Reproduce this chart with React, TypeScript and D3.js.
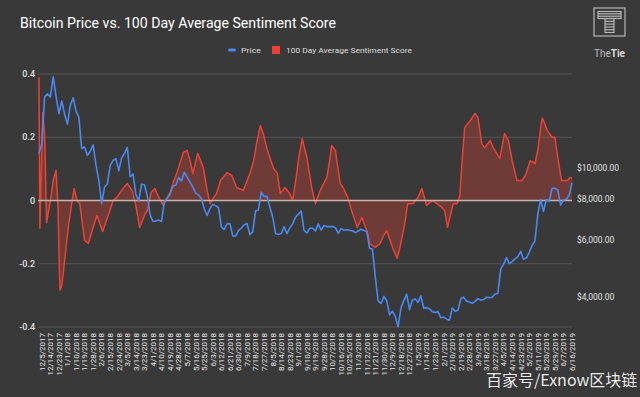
import React from 'react';
import * as d3 from 'd3';

const TITLE = 'Bitcoin Price vs. 100 Day Average Sentiment Score';
const LEGEND_PRICE = 'Price';
const LEGEND_SENT = '100 Day Average Sentiment Score';

const X_DOMAIN = ['12/1/2017', '6/16/2019'];

// Price: sampled every 3 days starting at PRICE_START
const PRICE_START = '12/2/2017';
const PRICE_STEP_DAYS = 3;
const priceValues = [
  11074, 11916, 16570, 16936, 16564, 19140, 16624, 14699, 16099, 14656,
  13657, 15599, 16477, 14973, 14360, 11490, 11607, 10931, 11259, 11787,
  10221, 9174, 7754, 8736, 8926, 10166, 10551, 10690, 9813, 10725,
  11086, 11573, 9395, 9578, 8270, 7916, 8913, 8879, 8209, 7165,
  6845, 6854, 6911, 6834, 7895, 8058, 8294, 8802, 8845, 9348,
  9119, 9700, 9373, 9043, 8723, 8368, 8247, 8041, 7480, 7135,
  7494, 7720, 7653, 7531, 6582, 6456, 6734, 6729, 6173, 6157,
  6404, 6529, 6673, 6741, 6228, 6359, 7370, 7419, 8424, 8165,
  8180, 7567, 7068, 6282, 6232, 6274, 6583, 6270, 6539, 6721,
  7053, 7193, 7362, 6419, 6300, 6517, 6517, 6398, 6712, 6432,
  6645, 6590, 6590, 6600, 6540, 6280, 6500, 6420, 6450, 6420,
  6400, 6317, 6390, 6470, 6410, 6370, 5648, 5620, 4602, 3880,
  3820, 4017, 3894, 3521, 3614, 3486, 3236, 3696, 3896, 4078,
  3654, 3913, 3943, 3846, 4030, 3687, 3707, 3679, 3602, 3583,
  3603, 3448, 3464, 3414, 3390, 3695, 3615, 3636, 3947, 3993,
  3882, 3855, 3822, 3874, 3950, 3910, 3925, 3990, 3980, 3990,
  4085, 4100, 4880, 5043, 5287, 5064, 5140, 5240, 5323, 5528,
  5230, 5270, 5490, 5770, 5950, 7204, 7995, 7344, 7996, 7880,
  8657, 8660, 8558, 7675, 7960, 8009, 8230, 8994,
];

// Sentiment: day offsets from SENT_START and values
const SENT_START = '12/1/2017';
const sentimentDays = [
  1, 2, 5, 7, 9, 13, 16, 19, 21, 23,
  25, 28, 32, 36, 38, 41, 44, 47, 49, 53,
  57, 62, 68, 74, 79, 83, 88, 94, 99, 103,
  107, 112, 115, 119, 123, 126, 132, 136, 139, 143,
  146, 153, 157, 160, 163, 168, 174, 178, 181, 185,
  188, 192, 199, 204, 209, 216, 223, 227, 230, 234,
  237, 241, 244, 248, 252, 255, 260, 265, 268, 272,
  274, 278, 283, 288, 292, 297, 304, 307, 309, 313,
  316, 318, 321, 326, 330, 336, 341, 347, 349, 355,
  360, 364, 367, 373, 378, 381, 386, 389, 395, 400,
  404, 409, 415, 420, 425, 428, 431, 437, 441, 444,
  446, 449, 455, 460, 463, 467, 470, 476, 479, 486,
  491, 495, 499, 504, 509, 513, 518, 523, 526, 530,
  531, 536, 541, 544, 547, 551, 557, 560, 562,
];
const sentimentValues = [
  0.39, -0.088, 0.278, 0.205, -0.07, 0.0, 0.063, 0.095, -0.016, -0.284,
  -0.27, -0.19, -0.08, 0.0, 0.038, 0.0, -0.01, -0.08, -0.126, -0.136,
  -0.095, -0.047, -0.098, -0.047, 0.0, 0.01, 0.032, 0.054, 0.032, -0.016,
  -0.085, -0.047, -0.032, 0.025, 0.038, 0.016, -0.016, 0.01, 0.025, 0.063,
  0.085, 0.152, 0.158, 0.126, 0.085, 0.149, 0.104, 0.032, -0.01, 0.01,
  0.022, 0.063, 0.088, 0.079, 0.041, 0.032, 0.085, 0.126, 0.18, 0.237,
  0.212, 0.164, 0.136, 0.101, 0.085, 0.022, 0.041, 0.022, 0.0, 0.079,
  0.126, 0.196, 0.136, 0.041, -0.01, 0.032, 0.073, 0.126, 0.174, 0.158,
  0.095, 0.054, 0.041, 0.01, -0.032, -0.085, -0.054, -0.104, -0.136, -0.148,
  -0.136, -0.11, -0.095, -0.148, -0.183, -0.148, -0.073, -0.01, -0.01, 0.01,
  0.038, -0.016, 0.0, -0.01, -0.022, -0.032, -0.085, -0.01, -0.01, 0.016,
  0.11, 0.23, 0.253, 0.275, 0.262, 0.18, 0.167, 0.19, 0.167, 0.133,
  0.212, 0.19, 0.126, 0.063, 0.063, 0.079, 0.126, 0.117, 0.158, 0.253,
  0.26, 0.221, 0.2, 0.2, 0.136, 0.063, 0.063, 0.073, 0.07,
];

const xTickLabels = [
  '12/5/2017', '12/14/2017', '12/23/2017',
  '1/1/2018', '1/10/2018', '1/19/2018', '1/28/2018', '2/6/2018', '2/15/2018', '2/24/2018',
  '3/5/2018', '3/14/2018', '3/23/2018', '4/1/2018', '4/10/2018', '4/19/2018', '4/28/2018',
  '5/7/2018', '5/16/2018', '5/25/2018', '6/3/2018', '6/12/2018', '6/21/2018', '6/30/2018',
  '7/9/2018', '7/18/2018', '7/27/2018', '8/5/2018', '8/14/2018', '8/23/2018', '9/1/2018',
  '9/10/2018', '9/19/2018', '9/28/2018', '10/7/2018', '10/16/2018', '10/25/2018',
  '11/3/2018', '11/12/2018', '11/21/2018', '11/30/2018', '12/9/2018', '12/18/2018', '12/27/2018',
  '1/5/2019', '1/14/2019', '1/23/2019', '2/1/2019', '2/10/2019', '2/19/2019', '2/28/2019',
  '3/9/2019', '3/18/2019', '3/27/2019', '4/5/2019', '4/14/2019', '4/23/2019', '5/2/2019',
  '5/11/2019', '5/20/2019', '5/29/2019', '6/7/2019', '6/16/2019',
];

const leftTicks = [0.4, 0.2, 0, -0.2, -0.4];
const leftTickLabels = ['0.4', '0.2', '0', '-0.2', '-0.4'];
const SENT_DOMAIN = [-0.4, 0.4];

const rightTicks = [10000, 8000, 6000, 4000];
const rightTickLabels = ['$10,000.00', '$8,000.00', '$6,000.00', '$4,000.00'];
const PRICE_DOMAIN = [3230, 19500];

const WATERMARK = '百家号/Exnow区块链';

const W = 640;
const H = 397;
const plot = { left: 38, right: 572, top: 74, bottom: 327 };

const BG = '#393939';
const BLUE = '#4a89f0';
const RED = '#ea4335';

export default function App() {
  const parse = d3.timeParse('%m/%d/%Y');
  const x = d3
    .scaleTime()
    .domain([parse(X_DOMAIN[0])!, parse(X_DOMAIN[1])!])
    .range([plot.left, plot.right]);
  const yL = d3.scaleLinear().domain(SENT_DOMAIN).range([plot.bottom, plot.top]);
  const yR = d3.scaleLog().domain(PRICE_DOMAIN).range([plot.bottom, plot.top]);

  const priceStart = parse(PRICE_START)!;
  const priceData = priceValues.map((v, i) => ({
    d: d3.timeDay.offset(priceStart, i * PRICE_STEP_DAYS),
    v,
  }));
  const sentStart = parse(SENT_START)!;
  const n = Math.min(sentimentDays.length, sentimentValues.length);
  const sentData = sentimentDays.slice(0, n).map((day, i) => ({
    d: d3.timeDay.offset(sentStart, day),
    v: sentimentValues[i],
  }));

  const area = d3
    .area<{ d: Date; v: number }>()
    .x((p) => x(p.d))
    .y0(yL(0))
    .y1((p) => yL(p.v));
  const sentLine = d3
    .line<{ d: Date; v: number }>()
    .x((p) => x(p.d))
    .y((p) => yL(p.v));
  const priceLine = d3
    .line<{ d: Date; v: number }>()
    .x((p) => x(p.d))
    .y((p) => yR(p.v));

  const font = 'Roboto, "Noto Sans", sans-serif';

  return (
    <svg
      width={W}
      height={H}
      style={{ position: 'absolute', left: 0, top: 0, display: 'block' }}
      fontFamily={font}
    >
      <rect x={0} y={0} width={W} height={H} fill={BG} />

      {/* Title */}
      <text x={20} y={27.5} fill="#ffffff" fontSize={15} textLength={316} lengthAdjust="spacingAndGlyphs">
        {TITLE}
      </text>

      {/* Legend */}
      <rect x={228} y={48.5} width={8} height={3} rx={1.5} fill={BLUE} />
      <text x={241} y={53} fill="#dddddd" fontSize={8} textLength={20} lengthAdjust="spacingAndGlyphs">
        {LEGEND_PRICE}
      </text>
      <rect x={272} y={46} width={8} height={8} fill={RED} />
      <text x={286} y={53} fill="#dddddd" fontSize={8} textLength={126} lengthAdjust="spacingAndGlyphs">
        {LEGEND_SENT}
      </text>

      {/* Logo */}
      <g stroke="#b8b8b8" fill="none" strokeWidth={1.2}>
        <rect x={594} y={8} width={31} height={28} />
        <rect x={598} y={11.5} width={23} height={7} />
        <line x1={598} y1={13.8} x2={621} y2={13.8} />
        <line x1={598} y1={16.2} x2={621} y2={16.2} />
        <rect x={605} y={18.5} width={9} height={14} />
        <line x1={605} y1={21.3} x2={614} y2={21.3} />
        <line x1={605} y1={24.1} x2={614} y2={24.1} />
        <line x1={605} y1={26.9} x2={614} y2={26.9} />
        <line x1={605} y1={29.7} x2={614} y2={29.7} />
      </g>
      <text x={609.5} y={57} textAnchor="middle" fontSize={10} fill="#bbbbbb">
        <tspan>The</tspan>
        <tspan fontWeight="bold" fill="#dddddd">Tie</tspan>
      </text>

      {/* Gridlines */}
      {leftTicks.map((t) =>
        t === 0 ? null : (
          <line
            key={'g' + t}
            x1={plot.left}
            x2={plot.right}
            y1={yL(t)}
            y2={yL(t)}
            stroke="#565656"
            strokeWidth={1}
          />
        )
      )}

      {/* Sentiment area + line */}
      <path d={area(sentData) || ''} fill={RED} fillOpacity={0.3} />
      <path d={sentLine(sentData) || ''} fill="none" stroke={RED} strokeWidth={1.5} strokeLinejoin="round" />

      {/* Zero line */}
      <line x1={plot.left} x2={plot.right} y1={yL(0)} y2={yL(0)} stroke="#c9b3ad" strokeWidth={1.3} />

      {/* Price line */}
      <path d={priceLine(priceData) || ''} fill="none" stroke={BLUE} strokeWidth={1.6} strokeLinejoin="round" />

      {/* Left axis labels */}
      {leftTicks.map((t, i) => (
        <text
          key={'l' + t}
          x={35}
          y={yL(t)}
          dy="0.35em"
          textAnchor="end"
          fontSize={9}
          fontWeight={500}
          fill="#e0e0e0"
        >
          {leftTickLabels[i]}
        </text>
      ))}

      {/* Right axis labels */}
      {rightTicks.map((t, i) => (
        <text key={'r' + t} x={577} y={yR(t)} dy="0.35em" fontSize={8.5} fill="#e0e0e0">
          {rightTickLabels[i]}
        </text>
      ))}

      {/* X axis labels */}
      {xTickLabels.map((lab) => {
        const xx = x(parse(lab)!);
        return (
          <text
            key={lab}
            transform={`translate(${xx},333) rotate(-90)`}
            dy="0.35em"
            textAnchor="end"
            fontSize={8}
            fill="#e6e6e6"
          >
            {lab}
          </text>
        );
      })}

      {/* Watermark */}
      <text
        x={486}
        y={386}
        fontSize={16}
        fill="#ffffff"
        fillOpacity={0.92}
        fontFamily='"Noto Sans CJK SC", sans-serif'
        style={{ paintOrder: 'stroke' }}
        stroke="#222"
        strokeWidth={0.6}
        strokeOpacity={0.5}
      >
        {WATERMARK}
      </text>
    </svg>
  );
}
